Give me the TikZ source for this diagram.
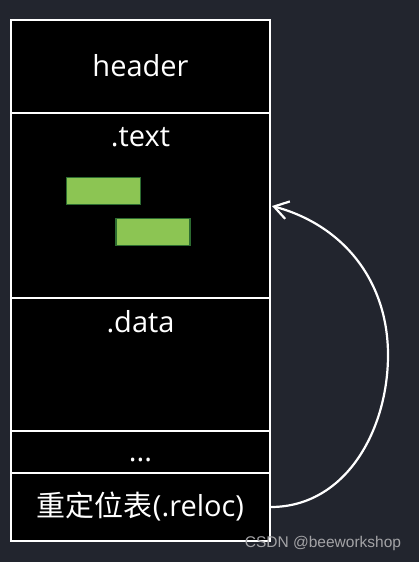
\documentclass[tikz,border=0pt]{standalone}
\usepackage{fontspec}
\setmainfont{Open Sans}
\newfontfamily\cjk{Noto Sans CJK SC}
\newfontfamily\wmfont{Liberation Sans}
\usetikzlibrary{arrows.meta}
\definecolor{bg}{HTML}{22252E}
\definecolor{blockgreen}{HTML}{8CC553}
\definecolor{blockedge}{HTML}{2C6B30}
\definecolor{markgray}{HTML}{A3A3A6}

\begin{document}
\begin{tikzpicture}
      [x=1pt,y=1pt,
       section/.style={rectangle,draw=white,fill=black,line width=1.4pt,minimum width=259pt,inner sep=0pt,
         text=white,text height=23pt,text depth=4pt,font=\fontsize{29}{32}\selectfont},
       secname/.style={text=white,text height=23pt,text depth=4pt,inner sep=0pt,font=\fontsize{29}{32}\selectfont},
       codeblock/.style={rectangle,draw=blockedge,fill=blockgreen,line width=1.4pt,minimum width=74pt,minimum height=27pt,inner sep=0pt},
       watermark/.style={text=markgray,inner sep=0pt,font=\wmfont\fontsize{15.5}{17}\selectfont},
       >={Straight Barb[length=14pt,width=18pt]}]
      \fill[bg] (0,0) rectangle (419,-562);
      \node[section,minimum height=93pt] (header) at (140.5,-66.5) {header} ;
      \node[section,minimum height=185pt] (text) at (140.5,-205.5) {} ;
      \node[section,minimum height=133pt] (data) at (140.5,-364.5) {} ;
      \node[section,minimum height=42pt] (dots) at (140.5,-452) {...} ;
      \node[section,minimum height=68pt] (reloc) at (140.5,-507) {{\cjk 重定位表}(.reloc)} ;
      \node[secname] (textname) at (140.5,-137) {.text} ;
      \node[secname] (dataname) at (140.5,-323) {.data} ;
      \node[codeblock] (block1) at (103.5,-191) {} ;
      \node[codeblock] (block2) at (153,-232) {} ;
      \node[watermark] (mark) at (323,-543) {CSDN @beeworkshop} ;
      \coordinate (bend) at (388,-355) ;
      \coordinate (target) at (272,-206) ;
      \draw[->,white,line width=2.2pt] (reloc.east) to[out=0,in=-90] (bend) to[out=90,in=-15] (target) ;
    \end{tikzpicture}
\end{document}
